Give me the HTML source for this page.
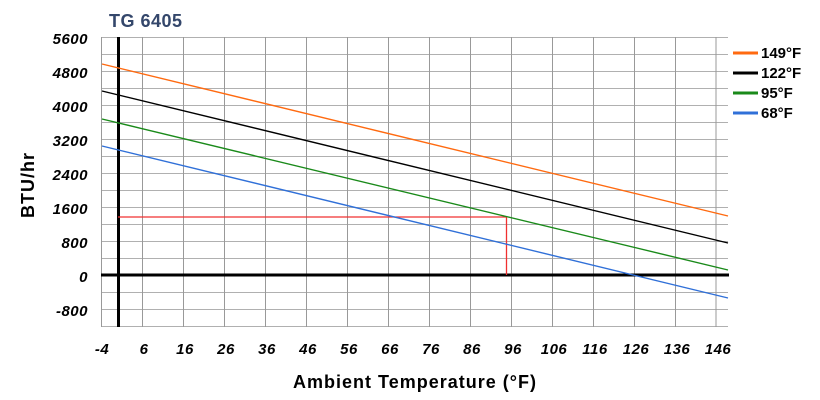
<!DOCTYPE html>
<html><head><style>body{margin:0;background:#fff}svg{display:block}</style></head><body>
<svg width="820" height="400" xmlns="http://www.w3.org/2000/svg" font-family="Liberation Sans, sans-serif">
<g stroke="#b0b0b0" stroke-width="1">
<line x1="101" y1="37.5" x2="728" y2="37.5"/><line x1="101" y1="54.5" x2="728" y2="54.5"/><line x1="101" y1="71.5" x2="728" y2="71.5"/><line x1="101" y1="88.5" x2="728" y2="88.5"/><line x1="101" y1="105.5" x2="728" y2="105.5"/><line x1="101" y1="122.5" x2="728" y2="122.5"/><line x1="101" y1="139.5" x2="728" y2="139.5"/><line x1="101" y1="156.5" x2="728" y2="156.5"/><line x1="101" y1="173.5" x2="728" y2="173.5"/><line x1="101" y1="190.5" x2="728" y2="190.5"/><line x1="101" y1="207.5" x2="728" y2="207.5"/><line x1="101" y1="224.5" x2="728" y2="224.5"/><line x1="101" y1="241.5" x2="728" y2="241.5"/><line x1="101" y1="258.5" x2="728" y2="258.5"/><line x1="101" y1="292.5" x2="728" y2="292.5"/><line x1="101" y1="309.5" x2="728" y2="309.5"/><line x1="101" y1="326.5" x2="728" y2="326.5"/>
</g>
<g stroke="#999" stroke-width="1">
<line x1="101.5" y1="37" x2="101.5" y2="327"/><line x1="142.5" y1="37" x2="142.5" y2="327"/><line x1="183.5" y1="37" x2="183.5" y2="327"/><line x1="224.5" y1="37" x2="224.5" y2="327"/><line x1="265.5" y1="37" x2="265.5" y2="327"/><line x1="306.5" y1="37" x2="306.5" y2="327"/><line x1="347.5" y1="37" x2="347.5" y2="327"/><line x1="388.5" y1="37" x2="388.5" y2="327"/><line x1="429.5" y1="37" x2="429.5" y2="327"/><line x1="470.5" y1="37" x2="470.5" y2="327"/><line x1="511.5" y1="37" x2="511.5" y2="327"/><line x1="552.5" y1="37" x2="552.5" y2="327"/><line x1="593.5" y1="37" x2="593.5" y2="327"/><line x1="634.5" y1="37" x2="634.5" y2="327"/><line x1="675.5" y1="37" x2="675.5" y2="327"/><line x1="716" y1="37" x2="716" y2="327"/>
</g>
<line x1="101" y1="275" x2="729" y2="275" stroke="#000" stroke-width="3"/>
<line x1="118.5" y1="37" x2="118.5" y2="327" stroke="#000" stroke-width="3"/>
<polyline points="118,217 506.5,217 506.5,275" fill="none" stroke="#f03030" stroke-width="1.3"/>
<g stroke-width="1.4" fill="none">
<line x1="102" y1="64" x2="728" y2="216" stroke="#ff6a10"/>
<line x1="102" y1="91" x2="728" y2="243" stroke="#000"/>
<line x1="102" y1="119" x2="728" y2="270" stroke="#1a8a1a"/>
<line x1="102" y1="146" x2="728" y2="298" stroke="#3070d8"/>
</g>
<text x="109" y="27" font-size="18" font-weight="bold" fill="#34476b" letter-spacing="0.5">TG 6405</text>
<g font-size="15" font-weight="bold" font-style="italic" text-anchor="end" letter-spacing="0.5">
<text x="88" y="44">5600</text><text x="88" y="78">4800</text><text x="88" y="112">4000</text><text x="88" y="146">3200</text><text x="88" y="180">2400</text><text x="88" y="214">1600</text><text x="88" y="248">800</text><text x="88" y="282">0</text><text x="88" y="316">-800</text>
</g>
<g font-size="15" font-weight="bold" font-style="italic" text-anchor="middle" letter-spacing="0.5">
<text x="102" y="354">-4</text><text x="144" y="354">6</text><text x="185" y="354">16</text><text x="226" y="354">26</text><text x="267" y="354">36</text><text x="308" y="354">46</text><text x="349" y="354">56</text><text x="390" y="354">66</text><text x="431" y="354">76</text><text x="472" y="354">86</text><text x="513" y="354">96</text><text x="554" y="354">106</text><text x="595" y="354">116</text><text x="636" y="354">126</text><text x="677" y="354">136</text><text x="718" y="354">146</text>
</g>
<text x="415" y="388" font-size="18" font-weight="bold" text-anchor="middle" letter-spacing="1">Ambient Temperature (°F)</text>
<text transform="translate(34,185) rotate(-90)" font-size="18" font-weight="bold" text-anchor="middle" letter-spacing="1">BTU/hr</text>
<g stroke-width="3">
<line x1="733" y1="53" x2="758" y2="53" stroke="#ff6a10"/>
<line x1="733" y1="73" x2="758" y2="73" stroke="#000"/>
<line x1="733" y1="93" x2="758" y2="93" stroke="#1a8a1a"/>
<line x1="733" y1="113" x2="758" y2="113" stroke="#3070d8"/>
</g>
<g font-size="15" font-weight="bold">
<text x="761" y="58">149°F</text><text x="761" y="78">122°F</text><text x="761" y="98">95°F</text><text x="761" y="118">68°F</text>
</g>
</svg>
</body></html>
